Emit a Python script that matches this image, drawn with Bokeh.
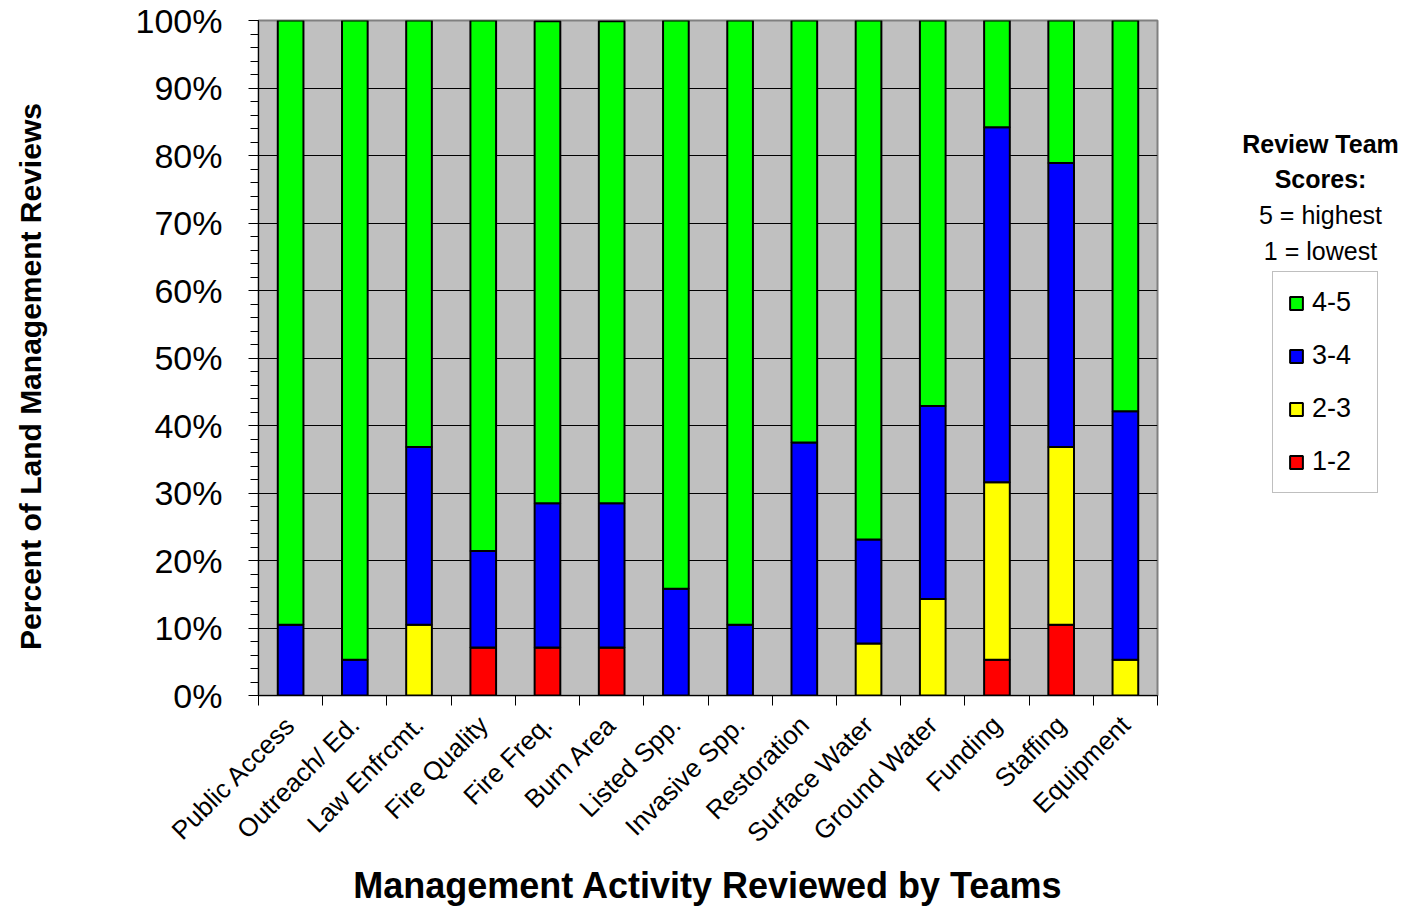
import math
from bokeh.plotting import figure
from bokeh.layouts import row
from bokeh.models import (ColumnDataSource, Range1d, FixedTicker, PrintfTickFormatter,
                          Legend, LegendItem)
from bokeh.core.properties import value
from bokeh.embed import file_html
from bokeh.resources import INLINE

categories = ["Public Access", "Outreach/ Ed.", "Law Enfrcmt.", "Fire Quality", "Fire Freq.",
              "Burn Area", "Listed Spp.", "Invasive Spp.", "Restoration", "Surface Water",
              "Ground Water", "Funding", "Staffing", "Equipment"]
score_1_2 = [0, 0, 0, 7.1, 7.1, 7.1, 0, 0, 0, 0, 0, 5.3, 10.5, 0]
score_2_3 = [0, 0, 10.5, 0, 0, 0, 0, 0, 0, 7.7, 14.3, 26.3, 26.3, 5.3]
score_3_4 = [10.5, 5.3, 26.3, 14.3, 21.4, 21.4, 15.8, 10.5, 37.5, 15.4, 28.6, 52.6, 42.1, 36.8]
score_4_5 = [89.5, 94.7, 63.2, 78.6, 71.4, 71.4, 84.2, 89.5, 62.5, 76.9, 57.1, 15.8, 21.1, 57.9]
series_names = ["1-2", "2-3", "3-4", "4-5"]
series_colors = ["#FF0000", "#FFFF00", "#0000FF", "#00FF00"]
y_ticks = list(range(0, 101, 10))

FONT = "Liberation Sans"
H = 908
TOP, BOTTOM = 20, 695          # frame edges (page pixels); side panels share them
n = len(categories)
xs = list(range(1, n + 1))

# side panels use page-pixel coordinates: y_data = H - page_y
side_y = (H - BOTTOM, H - TOP)

# ---------------- y-axis title panel ----------------
yt = figure(width=58, height=H, output_backend="svg", toolbar_location=None,
            x_range=Range1d(0, 58), y_range=Range1d(*side_y),
            x_axis_type=None, y_axis_type=None, min_border=0)
yt.outline_line_color = None
yt.grid.visible = False
yt.text(x=[30], y=[H - 376], text=["Percent of Land Management Reviews"], angle=math.pi / 2,
        text_align="center", text_baseline="middle", text_font=value(FONT),
        text_font_style="bold", text_font_size="30px", text_color="black")

# ---------------- main chart ----------------
src = ColumnDataSource(dict(x=xs, s12=score_1_2, s23=score_2_3, s34=score_3_4, s45=score_4_5))

p = figure(width=1112, height=H, output_backend="svg", toolbar_location=None,
           x_range=Range1d(0.5, n + 0.5), y_range=Range1d(0, 100),
           min_border_left=200, min_border_right=13, min_border_top=TOP,
           min_border_bottom=H - BOTTOM)

p.vbar_stack(["s12", "s23", "s34", "s45"], x="x", width=0.4, source=src,
             fill_color=series_colors, line_color="black", line_width=2)

p.background_fill_color = "#C0C0C0"
p.border_fill_color = "white"
p.outline_line_color = "#808080"
p.outline_line_width = 2

p.yaxis.ticker = FixedTicker(ticks=y_ticks, minor_ticks=list(range(0, 101, 2)))
p.yaxis.formatter = PrintfTickFormatter(format="%d%%")
p.yaxis.major_label_text_font = FONT
p.yaxis.major_label_text_font_size = "34px"
p.yaxis.major_label_text_color = "black"
p.yaxis.major_tick_out = 10
p.yaxis.major_tick_in = 0
p.yaxis.minor_tick_out = 8
p.yaxis.minor_tick_in = 0
p.yaxis.major_label_standoff = 26
p.yaxis.axis_line_color = "black"
p.yaxis.major_tick_line_color = "black"
p.yaxis.minor_tick_line_color = "black"

p.xaxis.ticker = FixedTicker(ticks=xs, minor_ticks=[x + 0.5 for x in range(0, n + 1)])
p.xaxis.major_label_overrides = {x: c for x, c in zip(xs, categories)}
p.xaxis.major_label_orientation = math.pi / 4
p.xaxis.major_label_text_font = FONT
p.xaxis.major_label_text_font_size = "26px"
p.xaxis.major_label_text_color = "black"
p.xaxis.major_tick_out = 0
p.xaxis.major_tick_in = 0
p.xaxis.minor_tick_out = 10
p.xaxis.minor_tick_in = 0
p.xaxis.minor_tick_line_color = "black"
p.xaxis.major_label_standoff = 15
p.xaxis.axis_line_color = "black"
p.xaxis.axis_label = "Management Activity Reviewed by Teams"
p.xaxis.axis_label_text_font = FONT
p.xaxis.axis_label_text_font_style = "bold"
p.xaxis.axis_label_text_font_size = "36px"
p.xaxis.axis_label_text_color = "black"
p.xaxis.axis_label_standoff = 3

p.xgrid.visible = False
p.ygrid.ticker = FixedTicker(ticks=y_ticks)
p.ygrid.grid_line_color = "black"
p.ygrid.grid_line_width = 1

# ---------------- legend panel ----------------
LX0 = 1170
lf = figure(width=1405 - LX0, height=H, output_backend="svg", toolbar_location=None,
            x_range=Range1d(LX0, 1405), y_range=Range1d(*side_y),
            x_axis_type=None, y_axis_type=None, min_border=0)
lf.outline_line_color = None
lf.grid.visible = False

swatches = []
for name, col in zip(series_names, series_colors):
    # hidden proxy renderer: only its legend swatch is drawn
    r = lf.vbar(x=[0], top=[0], bottom=[0], width=1, fill_color=col,
                line_color="black", line_width=2)
    r.visible = False
    swatches.append(r)
items = [LegendItem(label=series_names[i], renderers=[swatches[i]]) for i in [3, 2, 1, 0]]
legend = Legend(items=items, location=(1272 - LX0, BOTTOM - 493), orientation="vertical",
                padding=15, margin=0, spacing=22, glyph_width=16, glyph_height=16,
                label_height=26, label_width=50, label_standoff=8,
                label_text_font=FONT, label_text_font_size="27px", label_text_color="black",
                border_line_color="#808080", border_line_width=1,
                background_fill_color="white", background_fill_alpha=1,
                inactive_fill_alpha=0)
lf.add_layout(legend, "center")

lf.text(x=[1320, 1320], y=[H - 143, H - 178], text=["Review Team", "Scores:"],
        text_align="center", text_baseline="middle", text_font=value(FONT),
        text_font_style="bold", text_font_size="25px", text_color="black")
lf.text(x=[1320, 1320], y=[H - 214, H - 250], text=["5 = highest", "1 = lowest"],
        text_align="center", text_baseline="middle", text_font=value(FONT),
        text_font_style="normal", text_font_size="25px", text_color="black")

layout = row(yt, p, lf, spacing=0)
open("out.html", "w").write(file_html(layout, INLINE))
